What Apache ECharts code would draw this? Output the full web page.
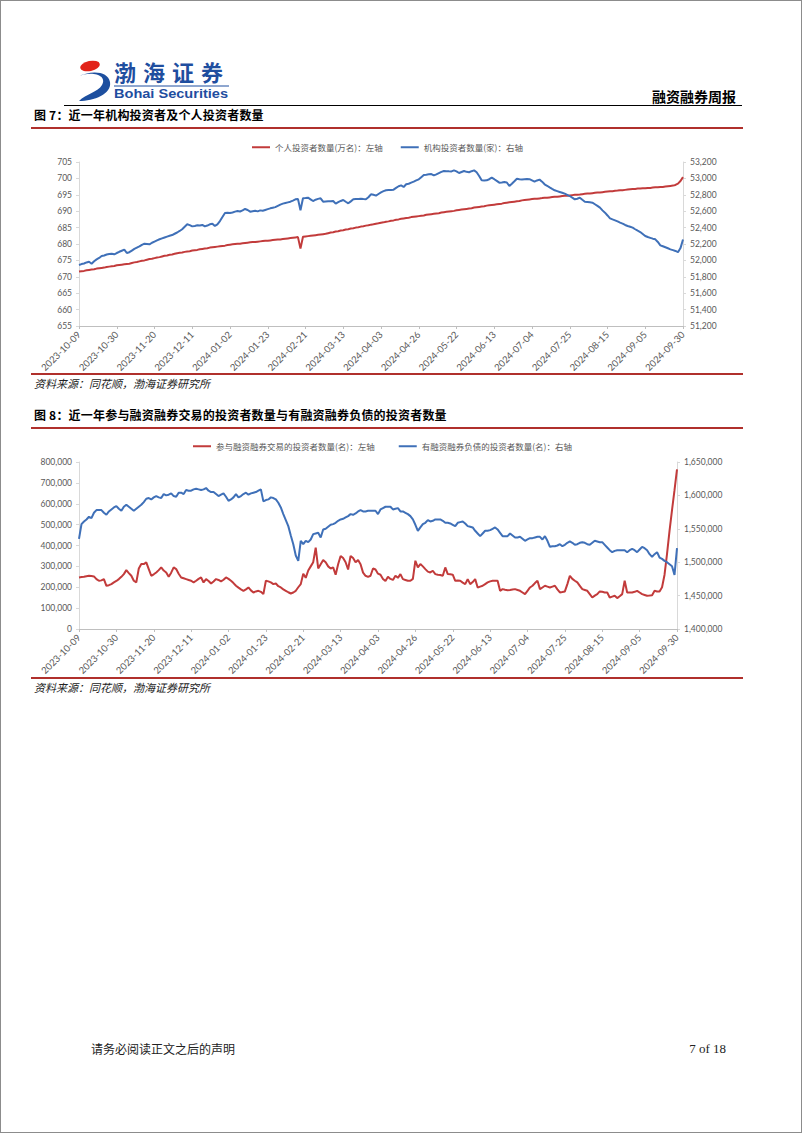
<!DOCTYPE html>
<html>
<head>
<meta charset="utf-8">
<script src="https://cdn.jsdelivr.net/npm/echarts@6.0.0/dist/echarts.min.js"></script>
<style>
html,body{margin:0;padding:0;background:#fff;}
#page{position:relative;width:802px;height:1133px;overflow:hidden;background:#fff;box-sizing:border-box;border:1px solid #8c8c8c;}
#chart{position:absolute;left:0;top:0;width:802px;height:1133px;}
.t{position:absolute;white-space:nowrap;font-family:"Noto Sans CJK SC",sans-serif;color:#000;line-height:1;}
.rule{position:absolute;}
</style>
</head>
<body>
<div id="page">
  <div id="chart"></div>
  <svg style="position:absolute;left:72px;top:55px" width="165" height="50" viewBox="0 0 165 50">
    <ellipse cx="17" cy="10" rx="10" ry="5" fill="#e2231a" transform="rotate(-12 17 10)"/>
    <path d="M4,21 C18,14 35,19 29,29 C25,36 13,38 6,45 C21,45 39,38 37,26 C35,15 18,14 4,21 Z" fill="#1d4f9f"/>
    <text x="41" y="25" font-family="Noto Sans CJK SC" font-weight="bold" font-size="22" fill="#1f4e9f" letter-spacing="7">渤海证券</text>
    <line x1="41" y1="30" x2="156" y2="30" stroke="#1f4e9f" stroke-width="1"/>
    <text x="41" y="42" font-family="Liberation Sans" font-weight="bold" font-size="12.5" fill="#1f4e9f" textLength="114" lengthAdjust="spacingAndGlyphs">Bohai Securities</text>
  </svg>
  <div class="t" style="right:65px;top:88px;font-size:14px;font-weight:bold;">融资融券周报</div>
  <div class="rule" style="left:63px;top:104px;width:678px;height:1px;background:#000;"></div>

  <div class="t" style="left:33px;top:108px;font-size:12px;font-weight:bold;letter-spacing:0.2px;">图 7：近一年机构投资者及个人投资者数量</div>
  <div class="rule" style="left:30px;top:126px;width:712px;height:1.5px;background:#b0302c;"></div>
  <div class="rule" style="left:30px;top:372px;width:712px;height:1.5px;background:#b0302c;"></div>
  <div class="t" style="left:33px;top:377px;font-size:11px;font-style:italic;color:#222;">资料来源：同花顺，渤海证券研究所</div>

  <div class="t" style="left:33px;top:408px;font-size:12px;font-weight:bold;letter-spacing:0.2px;">图 8：近一年参与融资融券交易的投资者数量与有融资融券负债的投资者数量</div>
  <div class="rule" style="left:30px;top:426px;width:712px;height:1.5px;background:#b0302c;"></div>
  <div class="rule" style="left:30px;top:676px;width:712px;height:1.5px;background:#b0302c;"></div>
  <div class="t" style="left:33px;top:681px;font-size:11px;font-style:italic;color:#222;">资料来源：同花顺，渤海证券研究所</div>

  <div class="t" style="left:90px;top:1042px;font-size:12px;color:#222;">请务必阅读正文之后的声明</div>
  <div class="t" style="right:75px;top:1041px;font-size:13px;font-family:'Liberation Serif',serif;color:#222;">7 of 18</div>
</div>
<script>
// ---------- categories: trading days 2023-10-09 .. 2024-09-30 ----------
const startDate = '2023-10-09';
const endDate = '2024-09-30';
const holidays = ['2024-01-01','2024-02-09','2024-02-12','2024-02-13','2024-02-14','2024-02-15','2024-02-16',
  '2024-04-04','2024-04-05','2024-05-01','2024-05-02','2024-05-03','2024-06-10','2024-09-16','2024-09-17'];
function buildTradingDays(s, e) {
  const out = [];
  const d = new Date(s + 'T00:00:00Z');
  const last = new Date(e + 'T00:00:00Z');
  while (d <= last) {
    const iso = d.toISOString().slice(0, 10);
    const wd = d.getUTCDay();
    if (wd !== 0 && wd !== 6 && holidays.indexOf(iso) < 0) out.push(iso);
    d.setUTCDate(d.getUTCDate() + 1);
  }
  return out;
}
const categories = buildTradingDays(startDate, endDate);

// ---------- series names ----------
const nameIndividual = '个人投资者数量(万名)：左轴';
const nameInstitution = '机构投资者数量(家)：右轴';
const nameTrading = '参与融资融券交易的投资者数量(名)：左轴';
const nameDebt = '有融资融券负债的投资者数量(名)：右轴';

// ---------- chart 7: individual investors (万名) ----------
const individualInvestors = [
671.6,671.7,671.8,672.0,672.1,672.2,672.3,672.5,672.6,672.7,672.8,673.0,673.1,673.2,673.3,
673.5,673.6,673.7,673.8,673.9,674.0,674.2,674.4,674.5,674.7,674.9,675.0,675.2,675.4,675.5,
675.7,675.9,676.0,676.2,676.4,676.5,676.7,676.8,677.0,677.2,677.3,677.4,677.6,677.7,677.8,
678.0,678.1,678.2,678.4,678.5,678.6,678.7,678.9,679.0,679.1,679.2,679.3,679.4,679.5,679.7,
679.8,679.9,680.0,680.1,680.1,680.2,680.3,680.4,680.5,680.6,680.6,680.7,680.8,680.9,681.0,
681.0,681.1,681.2,681.3,681.4,681.4,681.5,681.6,681.7,681.8,681.9,682.0,682.1,678.6,682.2,
682.3,682.4,682.5,682.6,682.7,682.8,682.9,683.0,683.1,683.3,683.5,683.6,683.8,683.9,684.1,
684.2,684.4,684.5,684.7,684.8,685.0,685.1,685.3,685.4,685.6,685.7,685.9,686.0,686.2,686.3,
686.5,686.6,686.8,686.9,687.1,687.2,687.4,687.5,687.7,687.8,687.9,688.0,688.2,688.3,688.4,
688.5,688.6,688.7,688.9,689.0,689.1,689.2,689.3,689.4,689.6,689.7,689.8,689.9,690.0,690.1,
690.3,690.4,690.5,690.6,690.7,690.8,690.9,691.1,691.2,691.3,691.4,691.5,691.7,691.8,691.9,
692.0,692.1,692.2,692.3,692.5,692.6,692.7,692.8,692.9,693.0,693.1,693.3,693.4,693.5,693.6,
693.7,693.8,693.8,693.9,694.0,694.1,694.1,694.2,694.3,694.4,694.4,694.5,694.6,694.7,694.7,
694.8,694.9,695.0,695.0,695.1,695.2,695.3,695.4,695.4,695.5,695.6,695.7,695.7,695.8,695.9,
696.0,696.1,696.1,696.2,696.3,696.4,696.4,696.5,696.6,696.7,696.8,696.8,696.9,696.9,697.0,
697.0,697.1,697.1,697.2,697.3,697.3,697.4,697.4,697.5,697.6,697.7,697.8,698.0,698.4,699.2,
700.4];

// ---------- chart 7: institutional investors (家) ----------
const institutionalInvestors = [
51944,51955,51962,51975,51984,51960,51990,52013,52030,52054,52060,52072,52078,52082,52074,
52090,52105,52118,52131,52090,52100,52120,52140,52155,52170,52190,52204,52200,52196,52215,
52230,52245,52258,52269,52280,52290,52300,52309,52325,52340,52359,52380,52410,52440,52430,
52415,52420,52428,52425,52432,52415,52425,52440,52448,52420,52440,52480,52530,52578,52580,
52578,52585,52595,52602,52596,52610,52627,52615,52594,52600,52605,52598,52610,52605,52615,
52625,52635,52643,52650,52665,52680,52692,52700,52708,52716,52730,52745,52750,52611,52757,
52760,52765,52745,52724,52740,52750,52757,52716,52718,52720,52722,52724,52692,52710,52725,
52737,52715,52696,52720,52745,52748,52750,52753,52748,52745,52770,52806,52800,52790,52810,
52830,52845,52855,52858,52860,52863,52885,52904,52915,52895,52928,52935,52948,52960,52975,
52989,53015,53041,53045,53050,53053,53036,53050,53065,53080,53090,53088,53086,53085,53098,
53085,53066,53078,53090,53080,53075,53088,53098,53075,53030,52976,52975,52976,52990,53009,
52990,52970,52948,52950,52955,52950,52907,52935,52965,52996,52990,52988,52990,52992,52990,
52975,52960,52975,52985,52960,52928,52910,52890,52872,52855,52845,52835,52825,52814,52800,
52785,52765,52745,52752,52765,52740,52716,52712,52708,52704,52685,52665,52643,52610,52582,
52548,52513,52500,52488,52475,52460,52448,52432,52420,52410,52399,52380,52362,52346,52322,
52297,52285,52275,52265,52257,52225,52184,52172,52160,52148,52135,52125,52115,52100,52150,
52255];

// ---------- chart 8: investors trading margin (thousand persons) ----------
const tradingInvestorsK = [
247,249,250,253,255,254,252,239,231,233,239,207,210,215,223,
230,239,250,263,282,268,255,231,223,290,311,311,319,287,255,
262,271,282,295,280,271,250,270,295,287,265,247,243,239,235,
231,223,231,240,247,223,239,230,218,228,239,235,228,236,247,
240,231,220,207,198,190,183,190,199,185,175,180,183,178,167,
231,228,223,215,218,205,199,190,183,176,170,175,183,200,215,
265,245,280,300,320,390,290,310,330,320,300,290,295,260,310,
350,340,320,285,350,340,320,330,310,270,255,250,255,290,285,
265,260,240,230,250,240,235,255,245,263,239,235,231,231,240,
327,295,311,300,287,275,271,279,263,260,259,255,295,263,262,
260,231,232,231,222,215,239,215,225,239,199,203,207,215,223,
228,231,231,231,183,191,188,186,187,189,191,187,183,175,167,
183,199,207,220,231,191,199,207,203,199,203,207,190,175,177,
180,215,255,240,231,223,207,191,187,183,167,151,160,167,180,
178,175,175,151,155,159,148,157,167,231,175,175,175,178,183,
175,167,163,159,160,162,183,180,180,200,260,360,470,570,665,
765];

// ---------- chart 8: investors with margin debt (thousand persons) ----------
const debtInvestorsK = [
1535,1557,1561,1564,1568,1566,1574,1578,1578,1578,1574,1571,1576,1579,1582,
1584,1580,1577,1583,1586,1583,1580,1577,1580,1583,1586,1590,1595,1596,1594,
1597,1599,1597,1596,1602,1600,1601,1603,1599,1598,1604,1604,1602,1608,1607,
1607,1609,1610,1609,1608,1609,1611,1607,1605,1605,1602,1599,1601,1603,1598,
1592,1594,1597,1602,1597,1599,1602,1604,1601,1603,1604,1605,1607,1609,1591,
1593,1594,1597,1596,1594,1589,1582,1572,1563,1554,1540,1527,1510,1502,1532,
1527,1532,1530,1534,1542,1543,1544,1537,1549,1550,1553,1556,1557,1559,1562,
1564,1565,1567,1569,1572,1571,1573,1576,1578,1576,1576,1577,1577,1577,1577,
1572,1579,1581,1583,1583,1583,1579,1580,1581,1576,1576,1574,1572,1569,1564,
1556,1547,1552,1557,1559,1563,1561,1562,1564,1564,1564,1562,1559,1559,1558,
1556,1554,1559,1560,1561,1558,1554,1553,1552,1547,1543,1539,1543,1547,1547,
1548,1550,1552,1549,1544,1539,1539,1539,1543,1540,1537,1537,1538,1535,1532,
1534,1536,1536,1537,1538,1538,1534,1539,1532,1523,1524,1524,1525,1527,1524,
1526,1529,1531,1529,1526,1527,1529,1530,1529,1527,1526,1529,1532,1531,1530,
1530,1526,1522,1518,1515,1517,1518,1518,1518,1518,1515,1518,1520,1518,1515,
1519,1523,1521,1518,1512,1508,1512,1515,1507,1505,1502,1500,1497,1494,1481,
1521];

// ---------- axis ranges ----------
const leftAxis7 = {min: 655, max: 705, interval: 5};
const rightAxis7 = {min: 51200, max: 53200, interval: 200};
const leftAxis8 = {min: 0, max: 800000, interval: 100000};
const rightAxis8 = {min: 1400000, max: 1650000, interval: 50000};

const RED = '#c23b3b';
const BLUE = '#3f70b8';
const AXIS_GRAY = '#d9d9d9';
const LABEL = {color: '#595959', fontSize: 8.5, fontFamily: 'Lato, "Liberation Sans", sans-serif'};

function thousands(v) { return String(v).replace(/\B(?=(\d{3})+(?!\d))/g, ','); }

function xAxisCfg(gi) {
  return {
    type: 'category', gridIndex: gi, data: categories, boundaryGap: false,
    axisLine: {lineStyle: {color: '#bfbfbf', width: 1}},
    axisTick: {show: true, interval: 14, length: 3, lineStyle: {color: '#bfbfbf'}},
    axisLabel: Object.assign({}, LABEL, {interval: 14, rotate: 45, margin: 7, fontSize: 9.5}),
    splitLine: {show: false}
  };
}
function yAxisCfg(gi, range, pos, fmt) {
  return Object.assign({
    type: 'value', gridIndex: gi, position: pos,
    axisLine: {show: true, lineStyle: {color: AXIS_GRAY}},
    axisTick: {show: true, length: 3, lineStyle: {color: AXIS_GRAY}},
    splitLine: {show: false},
    axisLabel: Object.assign({margin: 7, formatter: fmt}, LABEL)
  }, range);
}
function lineSeries(name, xi, yi, data, color) {
  return {name: name, type: 'line', xAxisIndex: xi, yAxisIndex: yi, data: data,
    symbol: 'none', smooth: false, animation: false,
    lineStyle: {width: 2, color: color}, itemStyle: {color: color}};
}
const legendText = {fontSize: 8.5, color: '#595959', fontFamily: '"Noto Sans CJK SC", sans-serif'};

const chart = echarts.init(document.getElementById('chart'), null, {renderer: 'svg', width: 802, height: 1133});
chart.setOption({
  animation: false,
  backgroundColor: 'transparent',
  grid: [
    {left: 78, top: 161, width: 604, height: 164, containLabel: false},
    {left: 78, top: 461, width: 598, height: 167, containLabel: false}
  ],
  legend: [
    {data: [nameIndividual, nameInstitution], left: 246, top: 137, icon: 'rect', itemWidth: 18, itemHeight: 2,
     itemGap: 18, textStyle: legendText, selectedMode: false},
    {data: [nameTrading, nameDebt], left: 187, top: 436, icon: 'rect', itemWidth: 18, itemHeight: 2,
     itemGap: 24, textStyle: legendText, selectedMode: false}
  ],
  xAxis: [xAxisCfg(0), xAxisCfg(1)],
  yAxis: [
    yAxisCfg(0, leftAxis7, 'left', function (v) { return String(v); }),
    yAxisCfg(0, rightAxis7, 'right', thousands),
    yAxisCfg(1, leftAxis8, 'left', thousands),
    yAxisCfg(1, rightAxis8, 'right', thousands)
  ],
  series: [
    lineSeries(nameIndividual, 0, 0, individualInvestors, RED),
    lineSeries(nameInstitution, 0, 1, institutionalInvestors, BLUE),
    lineSeries(nameTrading, 1, 2, tradingInvestorsK.map(function (v) { return v * 1000; }), RED),
    lineSeries(nameDebt, 1, 3, debtInvestorsK.map(function (v) { return v * 1000; }), BLUE)
  ]
});
</script>
</body>
</html>
